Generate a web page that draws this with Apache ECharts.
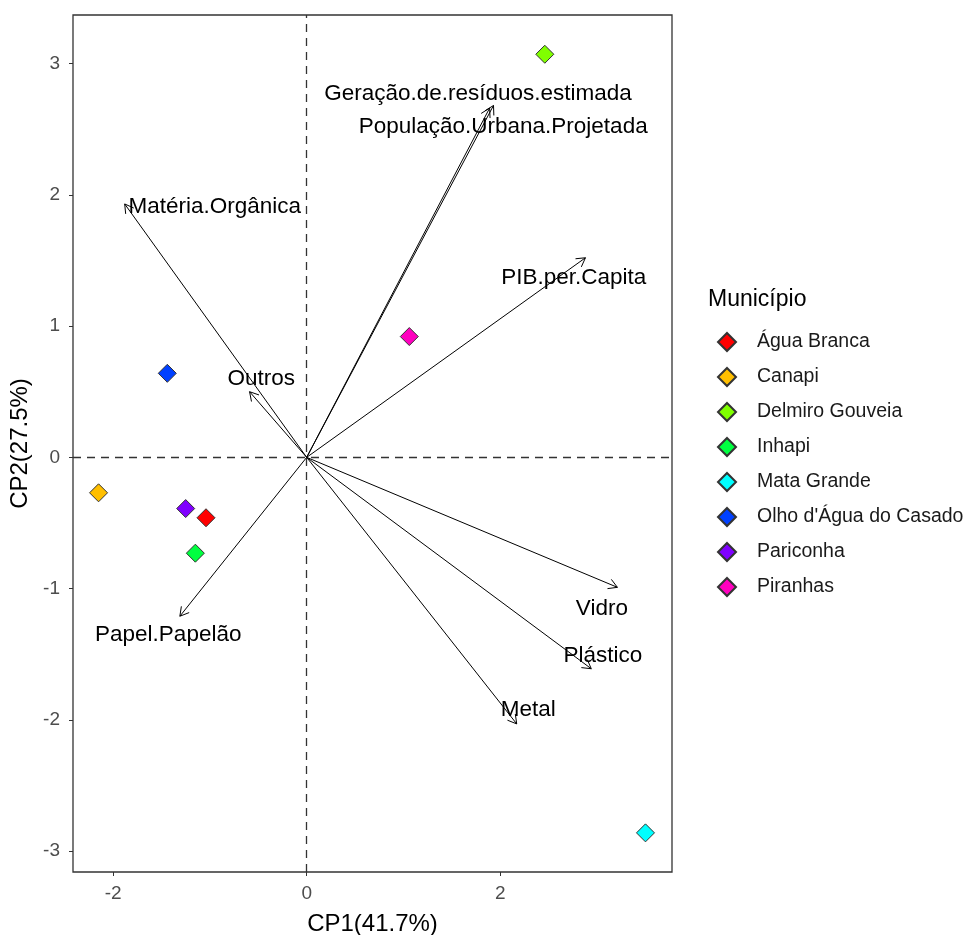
<!DOCTYPE html>
<html lang="pt-BR">
<head>
<meta charset="utf-8">
<title>Biplot CP1 x CP2</title>
<script src="https://cdn.jsdelivr.net/npm/echarts@6/dist/echarts.min.js"></script>
<style>
  html, body { margin: 0; padding: 0; background: #fff; }
  #chart { width: 965px; height: 935px; }
</style>
</head>
<body>
<div id="chart"></div>
<script>
// escores dos municipios (CP1, CP2)
var municipios = ['Água Branca', 'Canapi', 'Delmiro Gouveia', 'Inhapi', 'Mata Grande', 'Olho d\'Água do Casado', 'Pariconha', 'Piranhas'];
var scoreX = [-1.04, -2.15, 2.46, -1.15, 3.50, -1.44, -1.25, 1.06];
var scoreY = [-0.46, -0.27, 3.07, -0.73, -2.86, 0.64, -0.39, 0.92];
var cores = ['#FF0000', '#FFBF00', '#80FF00', '#00FF40', '#00FFFF', '#0040FF', '#8000FF', '#FF00BF'];

// cargas das variaveis (setas) e posicao dos rotulos
var variaveis = ['Geração.de.resíduos.estimada', 'População.Urbana.Projetada', 'Matéria.Orgânica', 'PIB.per.Capita', 'Outros', 'Papel.Papelão', 'Vidro', 'Plástico', 'Metal'];
var cargaX = [1.93, 1.89, -1.88, 2.88, -0.59, -1.31, 3.21, 2.94, 2.17];
var cargaY = [2.68, 2.66, 1.93, 1.52, 0.50, -1.21, -0.99, -1.61, -2.03];
var rotuloX = [1.77, 2.03, -0.95, 2.76, -0.47, -1.43, 3.05, 3.06, 2.29];
var rotuloY = [2.77, 2.52, 1.91, 1.37, 0.60, -1.35, -1.15, -1.51, -1.92];

var xTicks = [-2, 0, 2];
var yTicks = [-3, -2, -1, 0, 1, 2, 3];

var fonte = '"Liberation Sans", Arial, sans-serif';
var chart = echarts.init(document.getElementById('chart'));

function seta(params, api) {
    var o = api.coord([0, 0]);
    var p = api.coord([api.value(0), api.value(1)]);
    var ang = Math.atan2(p[1] - o[1], p[0] - o[0]);
    var len = 10, ab = Math.PI / 6;
    var a1 = [p[0] - len * Math.cos(ang - ab), p[1] - len * Math.sin(ang - ab)];
    var a2 = [p[0] - len * Math.cos(ang + ab), p[1] - len * Math.sin(ang + ab)];
    return {
        type: 'group',
        children: [
            { type: 'line', shape: { x1: o[0], y1: o[1], x2: p[0], y2: p[1] }, style: { stroke: '#000', lineWidth: 1 } },
            { type: 'polyline', shape: { points: [a1, p, a2] }, style: { stroke: '#000', fill: null, lineWidth: 1 } }
        ]
    };
}

function rotulo(params, api) {
    var c = api.coord([api.value(0), api.value(1)]);
    return {
        type: 'text',
        x: c[0], y: c[1],
        style: {
            text: variaveis[params.dataIndex],
            fill: '#000',
            fontSize: 22.5,
            fontFamily: fonte,
            align: 'center',
            verticalAlign: 'middle'
        }
    };
}

var series = [];

// setas + linhas tracejadas em zero
series.push({
    type: 'custom',
    name: 'setas',
    renderItem: seta,
    data: cargaX.map(function (v, i) { return [v, cargaY[i]]; }),
    silent: true,
    z: 3,
    markLine: {
        silent: true,
        symbol: 'none',
        label: { show: false },
        lineStyle: { color: '#333', type: [8, 6], width: 1.3 },
        data: [{ xAxis: 0 }, { yAxis: 0 }]
    }
});

series.push({
    type: 'custom',
    name: 'rotulos',
    renderItem: rotulo,
    data: rotuloX.map(function (v, i) { return [v, rotuloY[i]]; }),
    silent: true,
    z: 4
});

municipios.forEach(function (m, i) {
    series.push({
        type: 'scatter',
        name: m,
        symbol: 'diamond',
        symbolSize: 18,
        itemStyle: { color: cores[i], borderColor: '#333', borderWidth: 1, opacity: 1 },
        data: [[scoreX[i], scoreY[i]]],
        z: 5
    });
});

chart.setOption({
    animation: false,
    textStyle: { fontFamily: fonte },
    title: {
        text: 'Município',
        left: 703, top: 283,
        textStyle: { fontSize: 23, fontWeight: 'normal', color: '#000', fontFamily: fonte }
    },
    legend: {
        data: municipios,
        orient: 'vertical',
        left: 712, top: 327,
        itemWidth: 18, itemHeight: 18,
        itemGap: 15,
        textStyle: { fontSize: 19.5, color: '#1a1a1a', fontFamily: fonte, padding: [0, 0, 0, 16] },
        selectedMode: false
    },
    grid: {
        left: 73, top: 15, right: 293, bottom: 63,
        outerBoundsMode: 'none',
        show: true, borderColor: '#333', borderWidth: 1.3, backgroundColor: '#fff'
    },
    xAxis: {
        type: 'value',
        min: -2.414, max: 3.774,
        name: 'CP1(41.7%)',
        nameLocation: 'middle',
        nameGap: 40,
        nameTextStyle: { fontSize: 24, color: '#000', fontFamily: fonte },
        axisLine: { show: false, onZero: false },
        axisTick: { show: true, inside: false, length: 4, lineStyle: { color: '#333' }, customValues: xTicks },
        axisLabel: { color: '#4D4D4D', fontSize: 19, margin: 12, customValues: xTicks },
        splitLine: { show: false }
    },
    yAxis: {
        type: 'value',
        min: -3.158, max: 3.369,
        name: 'CP2(27.5%)',
        nameLocation: 'middle',
        nameRotate: 90,
        nameGap: 40,
        nameTextStyle: { fontSize: 24, color: '#000', fontFamily: fonte },
        axisLine: { show: false, onZero: false },
        axisTick: { show: true, inside: false, length: 4, lineStyle: { color: '#333' }, customValues: yTicks },
        axisLabel: { color: '#4D4D4D', fontSize: 19, margin: 13, customValues: yTicks },
        splitLine: { show: false }
    },
    series: series
});
</script>
</body>
</html>
